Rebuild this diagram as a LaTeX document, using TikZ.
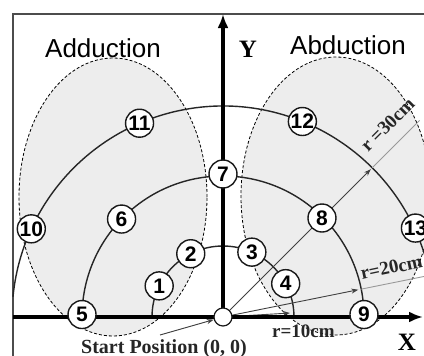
\documentclass[tikz,border=0pt]{standalone}
\usepackage{fontspec}
\setmainfont{Liberation Serif}
\newfontfamily\arialf{Liberation Sans}
\usetikzlibrary{arrows.meta,calc}
\begin{document}
\begin{tikzpicture}[x=1pt,y=1pt,
  num/.style={circle,draw=black!90,line width=1.4pt,fill=white,minimum size=28pt,inner sep=0pt,font=\arialf\bfseries\fontsize{21}{21}\selectfont},
  arcline/.style={line width=1.4pt,draw=black!85},
  zone/.style={draw=black,dash pattern=on 3pt off 2pt,line width=0.8pt,fill=black!7},
  axis/.style={line width=3.5pt,-{Latex[length=14pt,width=11pt]}},
  ray/.style={line width=0.9pt,draw=black!75,-{Stealth[length=7pt,width=5pt]}},
  ext/.style={line width=0.9pt,draw=black!40},
  lbl/.style={font=\bfseries\fontsize{19}{19}\selectfont,inner sep=0pt,text=black!85},
  title/.style={font=\arialf\fontsize{26}{26}\selectfont,anchor=base,inner sep=0pt},
  axlbl/.style={font=\bfseries\fontsize{25}{25}\selectfont,anchor=base,inner sep=0pt}
]
\useasboundingbox (0,0) rectangle (424,-356);
\clip (0,0) rectangle (424,-356);
\fill[white] (0,0) rectangle (424,-356);
\coordinate (O) at (223,-317);
% zones
\path[zone] (113,-197) ellipse [x radius=94, y radius=139];
\path[zone] (336,-196) ellipse [x radius=95, y radius=139];
% frame
\draw[line width=1.6pt, draw=black!70] (13,-14) rectangle (440,-370);
\begin{scope}[shift={(O)}]
  % arcs
  \draw[arcline] (0:71) arc[start angle=0,end angle=180,radius=71];
  \draw[arcline] (0:141) arc[start angle=0,end angle=180,radius=141];
  \draw[arcline] (12:211) arc[start angle=12,end angle=174.5,radius=211];
  % rays
  \draw[ray] (0,0) -- (3.4:67);
  \draw[ray] (0,0) -- (11.4:138);
  \draw[ray] (0,0) -- (45:209);
  \draw[ext] (11.4:141) -- (11.4:215);
  \draw[ext] (45:211) -- (45:278);
\end{scope}
% axes
\draw[axis] (13,-317) -- (423,-317);
\draw[axis] (O) -- (223,-14);
% origin
\node[circle,draw=black!90,line width=1.2pt,fill=white,minimum size=18pt,inner sep=0pt] (o) at (O) {};
% points
\begin{scope}[shift={(O)}]
  \node[num] (p1) at (154:71) {1};
  \node[num] (p2) at (117:71) {2};
  \node[num] (p3) at (66:71) {3};
  \node[num] (p4) at (28:71) {4};
  \node[num] (p5) at (179:141) {5};
  \node[num] (p6) at (136:141) {6};
  \node[num] (p7) at (90:143) {7};
  \node[num] (p8) at (45:140) {8};
  \node[num] (p9) at (1:141) {9};
  \node[num] (p10) at (155.3:211) {10};
  \node[num] (p11) at (113.3:211) {11};
  \node[num] (p12) at (67.9:211) {12};
  \node[num] (p13) at (24.8:212) {13};
\end{scope}
% labels
\node[title] (add) at (103,-57) {Adduction};
\node[title] (abd) at (348,-55) {Abduction};
\node[axlbl] (ylab) at (248,-57) {Y};
\node[axlbl] (xlab) at (407,-350) {X};
\node[font=\bfseries\fontsize{20}{20}\selectfont,anchor=base west,inner sep=0pt,text=black!85] (start) at (81,-353) {Start Position (0, 0)};
\coordinate (sp) at (160,-335);
\draw[ray] (sp) -- (o);
\node[lbl,anchor=base west] (r10) at (272,-337) {r=10cm};
\node[lbl,anchor=base west,rotate=12] (r20) at (362,-280) {r=20cm};
\node[lbl,anchor=base west,rotate=45] (r30) at (368,-153) {r =30cm};
\end{tikzpicture}
\end{document}
